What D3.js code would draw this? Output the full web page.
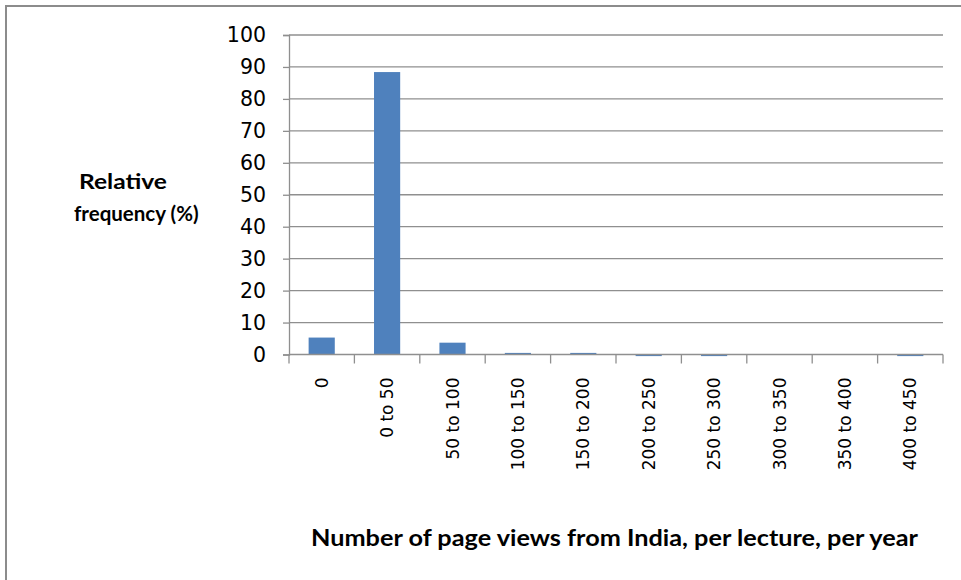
<!DOCTYPE html>
<html><head><meta charset="utf-8">
<script src="https://cdn.jsdelivr.net/npm/d3@7"></script>
<style>body{margin:0;background:#fff}svg{display:block}</style>
</head><body>
<script>
const categories = ["0","0 to 50","50 to 100","100 to 150","150 to 200","200 to 250","250 to 300","300 to 350","350 to 400","400 to 450"];
const values = [5.3, 88.4, 3.7, 0.5, 0.5, -0.5, -0.5, 0, 0, -0.5];
const yTicks = [0,10,20,30,40,50,60,70,80,90,100];

const W = 961, H = 580;
const svg = d3.select("body").append("svg").attr("width", W).attr("height", H);

// outer frame
svg.append("path").attr("d", "M6,590 L6,6 L970,6").attr("fill","none").attr("stroke","#8c8c8c").attr("stroke-width",2);

const x = d3.scaleBand().domain(categories).range([289, 943]).paddingInner(0.6).paddingOuter(0.3);
const xAxisBand = d3.scaleBand().domain(categories).range([289, 943]);
const y = d3.scaleLinear().domain([0, 100]).range([354.5, 35]);

// gridlines
svg.append("g").selectAll("line").data(yTicks.filter(d => d > 0)).join("line")
  .attr("x1", 289).attr("x2", 943).attr("y1", d => y(d)).attr("y2", d => y(d))
  .attr("stroke", "#8f8f8f").attr("stroke-width", 1.3);

// y axis
const yAxis = svg.append("g").attr("transform", "translate(289,0)")
  .call(d3.axisLeft(y).tickValues(yTicks).tickSize(6).tickPadding(17));
yAxis.select(".domain").attr("stroke", "#8f8f8f").attr("stroke-width", 1.3);
yAxis.selectAll(".tick line").attr("stroke", "#8f8f8f").attr("stroke-width", 1.3);
yAxis.selectAll("text").attr("font-family", "DejaVu Sans").attr("font-size", 20.5).attr("fill", "#000");

// bars
svg.append("g").selectAll("rect").data(values).join("rect")
  .attr("x", (d, i) => x(categories[i]))
  .attr("width", x.bandwidth())
  .attr("y", d => y(Math.max(0, d)))
  .attr("height", d => Math.abs(y(d) - y(0)))
  .attr("fill", "#4f81bd");

// x axis
const xAxis = svg.append("g").attr("transform", `translate(0,${y(0)})`);
xAxis.append("line").attr("x1", 289).attr("x2", 943).attr("stroke", "#8f8f8f").attr("stroke-width", 1.3);
const tickPos = categories.map(c => xAxisBand(c)).concat([943]);
xAxis.selectAll("line.t").data(tickPos).join("line").attr("class","t")
  .attr("x1", d => d).attr("x2", d => d).attr("y1", 0).attr("y2", 9)
  .attr("stroke", "#8f8f8f").attr("stroke-width", 1.3);
xAxis.selectAll("text").data(categories).join("text")
  .attr("transform", d => `translate(${xAxisBand(d) + xAxisBand.bandwidth()/2 + 6},23) rotate(-90)`)
  .attr("text-anchor", "end")
  .attr("font-family", "DejaVu Sans").attr("font-size", 17).attr("fill", "#000")
  .text(d => d);

// axis titles
const yt = svg.append("text").attr("font-family", "Lato").attr("font-weight", "bold").attr("fill","#000");
yt.append("tspan").attr("x", 79).attr("y", 189).attr("font-size", 21).attr("textLength", 88).attr("lengthAdjust", "spacingAndGlyphs").text("Relative");
yt.append("tspan").attr("x", 74).attr("y", 221).attr("font-size", 20.5).text("frequency (%)");

svg.append("text").attr("x", 311).attr("y", 546)
  .attr("textLength", 607).attr("lengthAdjust", "spacingAndGlyphs")
  .attr("font-family", "Lato").attr("font-weight", "bold").attr("font-size", 23).attr("fill","#000")
  .text("Number of page views from India, per lecture, per year");
</script>
</body></html>
